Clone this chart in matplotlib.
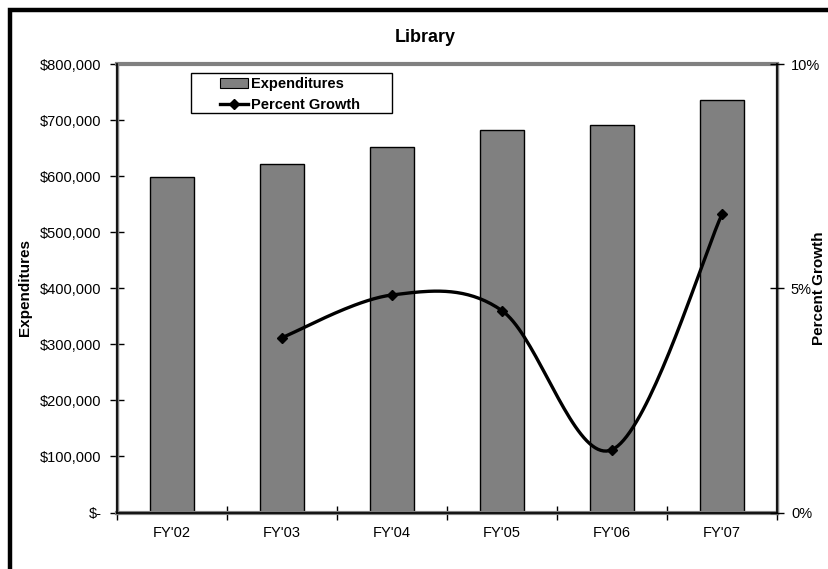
import numpy as np
import matplotlib
matplotlib.use("Agg")
import matplotlib.pyplot as plt
from matplotlib.patches import Rectangle, Patch
from matplotlib.lines import Line2D
from matplotlib.ticker import FuncFormatter, FixedLocator

plt.rcParams['font.family'] = ['Liberation Sans', 'DejaVu Sans']

categories = ["FY'02", "FY'03", "FY'04", "FY'05", "FY'06", "FY'07"]
expenditures = [598000, 622000, 652000, 682000, 691000, 736000]
growth_cats = ["FY'03", "FY'04", "FY'05", "FY'06", "FY'07"]
growth_pct = [3.9, 4.85, 4.5, 1.4, 6.65]

W, H = 829, 569
fig = plt.figure(figsize=(W / 100, H / 100), dpi=100)
fig.patch.set_facecolor('white')

# figure border (top/left visible, right/bottom cropped)
fig.patches.append(Rectangle((10.5 / W, -0.2), 1.5, 1.2 - 10.5 / H,
                             transform=fig.transFigure, fill=False,
                             edgecolor='black', linewidth=3.2, zorder=0))

ax = fig.add_axes([117 / W, (H - 512.5) / H, (777 - 117) / W, (512.5 - 64) / H])
x = np.arange(len(categories))
ax.bar(x, expenditures, width=0.4, color='#808080', edgecolor='black',
       linewidth=1.0, zorder=2)
ax.set_xlim(-0.5, len(categories) - 0.5)
ax.set_ylim(0, 800000)
ax.set_yticks(np.arange(0, 800001, 100000))

def money(v, pos):
    if v == 0:
        return '$-'
    return '${:,.0f}'.format(v)

ax.yaxis.set_major_formatter(FuncFormatter(money))
ax.set_xticks(x)
ax.set_xticklabels(categories)
ax.xaxis.set_minor_locator(FixedLocator(np.arange(-0.5, len(categories), 1.0)))
ax.tick_params(axis='x', which='major', length=0, pad=10, labelsize=10.5)
ax.tick_params(axis='x', which='minor', length=10, width=1, direction='inout', color='black')
ax.tick_params(axis='y', length=10, width=1, direction='inout', pad=6, labelsize=10.5)

for s in ['top', 'bottom']:
    ax.spines[s].set_color('#808080')
    ax.spines[s].set_linewidth(3)
for s in ['left', 'right']:
    ax.spines[s].set_color('#808080')
    ax.spines[s].set_linewidth(2.5)

fig.text(25 / W, 1 - 288 / H, 'Expenditures', rotation=90, ha='center', va='center',
         fontsize=11, fontweight='bold')

ax2 = ax.twinx()
ax2.set_ylim(0, 10)
ax2.set_yticks([0, 5, 10])
ax2.yaxis.set_major_formatter(FuncFormatter(lambda v, p: '{:.0f}%'.format(v)))
ax2.tick_params(axis='y', length=10, width=1, direction='inout', pad=5, labelsize=10.5)
for s in ax2.spines.values():
    s.set_visible(False)

fig.text(819 / W, 1 - 288 / H, 'Percent Growth', rotation=90, ha='center', va='center',
         fontsize=11, fontweight='bold')

# black axis lines on top of gray frame
ax2.axvline(-0.5, color='black', lw=1.2, zorder=5, clip_on=False)
ax2.axvline(len(categories) - 0.5, color='black', lw=1.2, zorder=5, clip_on=False)
ax2.axhline(0, color='black', lw=1.2, zorder=5, clip_on=False)

# smooth (Catmull-Rom style Bezier) line through growth points, pixel-proportional space
gx = np.array([categories.index(c) for c in growth_cats], dtype=float)
gy = np.array(growth_pct, dtype=float)
sx, sy = 110.0, 44.85
pts = np.column_stack([gx * sx, gy * sy])
curve = []
for i in range(len(pts) - 1):
    p0 = pts[i - 1] if i > 0 else pts[i]
    p1 = pts[i]
    p2 = pts[i + 1]
    p3 = pts[i + 2] if i + 2 < len(pts) else pts[i + 1]
    c1 = p1 + (p2 - p0) / 6.0
    c2 = p2 - (p3 - p1) / 6.0
    t = np.linspace(0, 1, 40)[:, None]
    seg = ((1 - t) ** 3) * p1 + 3 * ((1 - t) ** 2) * t * c1 + 3 * (1 - t) * t ** 2 * c2 + t ** 3 * p2
    curve.append(seg if i == 0 else seg[1:])
curve = np.vstack(curve)
ax2.plot(curve[:, 0] / sx, curve[:, 1] / sy, color='black', lw=2.4, zorder=6,
         solid_capstyle='round')
ax2.plot(gx, gy, linestyle='none', marker='D', markersize=5.5, color='black', zorder=7)

fig.text(425 / W, 1 - 37 / H, 'Library', ha='center', va='center',
         fontsize=13, fontweight='bold')

# legend frame drawn separately (Excel-style padding)
fig.patches.append(Rectangle((191 / W, 1 - 113 / H), (392 - 191) / W, 40 / H,
                             transform=fig.transFigure, facecolor='white',
                             edgecolor='black', linewidth=1.0, zorder=8))
handles = [Patch(facecolor='#808080', edgecolor='black', linewidth=0.8),
           Line2D([0], [0], color='black', lw=2.4, marker='D', markersize=5.5)]
leg = fig.legend(handles, ['Expenditures', 'Percent Growth'],
                 loc='center left', bbox_to_anchor=(220 / W, 1 - 94.5 / H),
                 frameon=False, prop={'weight': 'bold', 'size': 10.5},
                 handlelength=1.9, handletextpad=0.25, borderpad=0,
                 labelspacing=0.45, borderaxespad=0)
leg.set_zorder(9)

fig.savefig('out.png', dpi=100, facecolor='white')
